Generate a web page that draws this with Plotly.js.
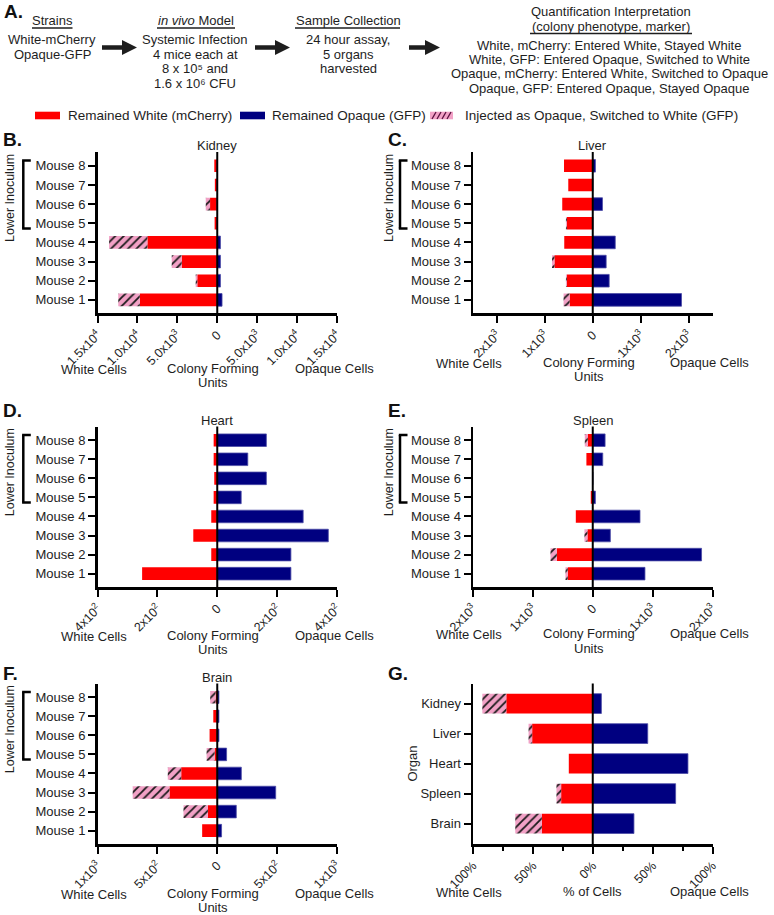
<!DOCTYPE html>
<html><head><meta charset="utf-8">
<script src="https://cdn.plot.ly/plotly-3.0.1.min.js"></script>
<style>html,body{margin:0;padding:0;background:#fff}#chart{width:774px;height:915px}</style>
</head><body><div id="chart"></div>
<script>
// ---------------- DATA ----------------
const mice = ['Mouse 1','Mouse 2','Mouse 3','Mouse 4','Mouse 5','Mouse 6','Mouse 7','Mouse 8'];
const organs = ['Brain','Spleen','Heart','Liver','Kidney'];

const kidneyWhiteMCherry = [9700, 2500, 4450, 8750, 330, 900, 300, 370];
const kidneyWhiteGFP     = [2700, 200, 1250, 4800, 0, 540, 0, 0];
const kidneyOpaqueGFP    = [600, 400, 400, 400, 0, 0, 0, 0];

const liverWhiteMCherry = [483, 540, 800, 595, 540, 637, 511, 600];
const liverWhiteGFP     = [126, 20, 50, 0, 20, 0, 0, 0];
const liverOpaqueGFP    = [1853, 343, 280, 470, 0, 203, 0, 56];

const heartWhiteMCherry = [251, 20, 80, 20, 12, 10, 12, 12];
const heartWhiteGFP     = [0, 0, 0, 0, 0, 0, 0, 0];
const heartOpaqueGFP    = [246, 246, 371, 287, 80, 164, 102, 164];

const spleenWhiteMCherry = [417, 600, 89, 283, 33, 0, 106, 83];
const spleenWhiteGFP     = [39, 106, 50, 0, 0, 0, 0, 50];
const spleenOpaqueGFP    = [872, 1817, 294, 789, 44, 0, 167, 206];

const brainWhiteMCherry = [126, 78, 399, 301, 22, 64, 33, 14];
const brainWhiteGFP     = [0, 204, 307, 112, 67, 0, 0, 45];
const brainOpaqueGFP    = [36, 159, 488, 201, 78, 14, 14, 14];

// percent of cells per organ (order of `organs`)
const pctWhiteMCherry = [42.5, 26.4, 20.0, 50.6, 72.2];
const pctWhiteGFP     = [22.2, 3.9, 0, 3.0, 20.0];
const pctOpaqueGFP    = [34.4, 69.2, 79.5, 45.9, 7.2];

// tick values / labels
const kidneyTicks = [-15000,-10000,-5000,0,5000,10000,15000];
const kidneyTickText = ['1.5x10<sup>4</sup>','1.0x10<sup>4</sup>','5.0x10<sup>3</sup>','0','5.0x10<sup>3</sup>','1.0x10<sup>4</sup>','1.5x10<sup>4</sup>'];
const liverTicks = [-2000,-1000,0,1000,2000];
const liverTickText = ['2x10<sup>3</sup>','1x10<sup>3</sup>','0','1x10<sup>3</sup>','2x10<sup>3</sup>'];
const heartTicks = [-400,-200,0,200,400];
const heartTickText = ['4x10<sup>2</sup>','2x10<sup>2</sup>','0','2x10<sup>2</sup>','4x10<sup>2</sup>'];
const spleenTicks = [-2000,-1000,0,1000,2000];
const spleenTickText = ['2x10<sup>3</sup>','1x10<sup>3</sup>','0','1x10<sup>3</sup>','2x10<sup>3</sup>'];
const brainTicks = [-1000,-500,0,500,1000];
const brainTickText = ['1x10<sup>3</sup>','5x10<sup>2</sup>','0','5x10<sup>2</sup>','1x10<sup>3</sup>'];
const pctTicks = [-100,-50,0,50,100];
const pctTickText = ['100%','50%','0%','50%','100%'];
const pctMinorTicks = [-75,-25,25,75];

// ---------------- STYLE / GEOMETRY ----------------
const W = 774, H = 915;
const px = x => x / W;
const py = y => 1 - y / H;
const FONT = 'Liberation Sans, Arial, Helvetica, sans-serif';
const TXT = '#1e1e1e';
const RED = '#ff0000', NAVY = '#000080', PINK = '#f2a1c6';

const colX = [[97.5, 337], [473, 712.5]];
const rowY = [[152, 313.3], [426.5, 587], [683.5, 844]];

const panels = [
  {name:'Kidney', letter:'B.', col:0, row:0, cats:mice, wm:kidneyWhiteMCherry, wg:kidneyWhiteGFP, og:kidneyOpaqueGFP, rng:15000, tv:kidneyTicks, tt:kidneyTickText, lab:55, xl:'Colony Forming', x2:'Units'},
  {name:'Liver', letter:'C.', col:1, row:0, cats:mice, wm:liverWhiteMCherry, wg:liverWhiteGFP, og:liverOpaqueGFP, rng:2500, tv:liverTicks, tt:liverTickText, lab:49, xl:'Colony Forming', x2:'Units'},
  {name:'Heart', letter:'D.', col:0, row:1, cats:mice, wm:heartWhiteMCherry, wg:heartWhiteGFP, og:heartOpaqueGFP, rng:400, tv:heartTicks, tt:heartTickText, lab:48, xl:'Colony Forming', x2:'Units'},
  {name:'Spleen', letter:'E.', col:1, row:1, cats:mice, wm:spleenWhiteMCherry, wg:spleenWhiteGFP, og:spleenOpaqueGFP, rng:2000, tv:spleenTicks, tt:spleenTickText, lab:46.5, xl:'Colony Forming', x2:'Units'},
  {name:'Brain', letter:'F.', col:0, row:2, cats:mice, wm:brainWhiteMCherry, wg:brainWhiteGFP, og:brainOpaqueGFP, rng:1000, tv:brainTicks, tt:brainTickText, lab:49, xl:'Colony Forming', x2:'Units'},
  {name:'', letter:'G.', col:1, row:2, cats:organs, wm:pctWhiteMCherry, wg:pctWhiteGFP, og:pctOpaqueGFP, rng:100, tv:pctTicks, tt:pctTickText, lab:47.5, xl:'% of Cells', x2:'', minor:pctMinorTicks}
];

const data = [];
const layout = {
  width: W, height: H, margin:{l:0,r:0,t:0,b:0},
  paper_bgcolor:'#fff', plot_bgcolor:'rgba(0,0,0,0)',
  barmode:'relative', bargap:0.34, showlegend:false,
  font:{family:FONT, size:13, color:TXT},
  annotations:[], shapes:[]
};
const ann = (o) => layout.annotations.push(Object.assign({showarrow:false, font:{family:FONT, size:13, color:TXT}}, o));
const shp = (o) => layout.shapes.push(o);

panels.forEach((p, i) => {
  const n = i + 1;
  const xa = n === 1 ? 'x' : 'x' + n;
  const ya = n === 1 ? 'y' : 'y' + n;
  const xk = n === 1 ? 'xaxis' : 'xaxis' + n;
  const yk = n === 1 ? 'yaxis' : 'yaxis' + n;
  const [L, R] = colX[p.col];
  const [T, B] = rowY[p.row];
  const isMouse = p.cats.length === 8;
  const yr = isMouse ? [-0.7, 7.72] : [-0.68, 4.67];

  data.push({type:'bar', orientation:'h', y:p.cats, x:p.wm.map(v => -v), xaxis:xa, yaxis:ya,
    marker:{color:RED, line:{width:0}}, hoverinfo:'skip'});
  data.push({type:'bar', orientation:'h', y:p.cats, x:p.wg.map(v => -v), xaxis:xa, yaxis:ya,
    marker:{color:PINK, line:{width:0}, pattern:{shape:'/', fgcolor:'#1a1a1a', bgcolor:PINK, size:6, solidity:0.3, fillmode:'replace'}}, hoverinfo:'skip'});
  data.push({type:'bar', orientation:'h', y:p.cats, x:p.og, xaxis:xa, yaxis:ya,
    marker:{color:NAVY, line:{color:'#4b4ba6', width:0.8}}, hoverinfo:'skip'});

  layout[xk] = {
    domain:[px(L), px(R)], anchor:ya, range:[-p.rng, p.rng], fixedrange:true,
    tickmode:'array', tickvals:p.tv, ticktext:p.tt, tickangle:-45,
    tickfont:{family:FONT, size:12.5, color:TXT},
    showline:true, linecolor:'#000', linewidth:2.5, mirror:false,
    ticks:'outside', ticklen:7, tickwidth:2, tickcolor:'#000',
    showgrid:false, zeroline:false
  };
  if (p.minor) layout[xk].minor = {tickmode:'array', tickvals:p.minor, ticks:'outside', ticklen:4, tickwidth:2, tickcolor:'#000', showgrid:false};
  layout[yk] = {
    domain:[py(B), py(T)], anchor:xa, type:'category', categoryorder:'array', categoryarray:p.cats,
    range:yr, fixedrange:true,
    tickfont:{family:FONT, size:13, color:TXT},
    showline:true, linecolor:'#000', linewidth:2.5,
    ticks:'outside', ticklen:7, tickwidth:2, tickcolor:'#000',
    showgrid:false, zeroline:false
  };

  // zero line
  shp({type:'line', xref:xa, yref:ya + ' domain', x0:0, x1:0, y0:0, y1:1, line:{color:'#000', width:2}, layer:'above'});

  // title
  if (p.name) ann({xref:xa, x:0, yref:'paper', y:py(T - 6.5), text:p.name, xanchor:'center', yanchor:'middle'});

  // bottom labels
  const zeroPx = (L + R) / 2;
  ann({xref:'paper', x:px(L - 4), yref:'paper', y:py(B + p.lab + 1), text:'White Cells', xanchor:'center', yanchor:'middle'});
  ann({xref:'paper', x:px(R - 3), yref:'paper', y:py(B + p.lab), text:'Opaque Cells', xanchor:'center', yanchor:'middle'});
  ann({xref:'paper', x:px(zeroPx - (p.x2 ? 4 : 0)), yref:'paper', y:py(B + p.lab), text:p.xl, xanchor:'center', yanchor:'middle'});
  if (p.x2) ann({xref:'paper', x:px(zeroPx - 4), yref:'paper', y:py(B + p.lab + 14.5), text:p.x2, xanchor:'center', yanchor:'middle'});

  // panel letter
  const letterY = [140, 411, 673][p.row];
  ann({xref:'paper', x:px(p.col === 0 ? 1 : 385.5), yref:'paper', y:py(letterY), text:'<b>' + p.letter + '</b>', xanchor:'left', yanchor:'middle', font:{family:FONT, size:19, color:'#111'}});

  if (isMouse) {
    const bx = p.col === 0 ? 23.3 : 400;
    const lx = p.col === 0 ? 10 : 389;
    shp({type:'line', xref:'paper', yref:ya, x0:px(bx), x1:px(bx), y0:3.73, y1:7.27, line:{color:'#000', width:2.5}});
    shp({type:'line', xref:'paper', yref:ya, x0:px(bx - 1.2), x1:px(bx + 7.5), y0:7.27, y1:7.27, line:{color:'#000', width:2.5}});
    shp({type:'line', xref:'paper', yref:ya, x0:px(bx - 1.2), x1:px(bx + 7.5), y0:3.73, y1:3.73, line:{color:'#000', width:2.5}});
    ann({xref:'paper', x:px(lx), yref:ya, y:5.32, text:'Lower Inoculum', textangle:-90, xanchor:'center', yanchor:'middle', font:{family:FONT, size:12.5, color:TXT}});
  } else {
    ann({xref:'paper', x:px(413), yref:ya, y:2, text:'Organ', textangle:-90, xanchor:'center', yanchor:'middle'});
  }
});

// ---------------- LEGEND ----------------
shp({type:'rect', xref:'paper', yref:'paper', x0:px(35), x1:px(60), y0:py(119.3), y1:py(111.7), fillcolor:RED, line:{width:0}});
ann({xref:'paper', x:px(66), yref:'paper', y:py(115.5), text:'Remained White (mCherry)', xanchor:'left', yanchor:'middle', font:{family:FONT, size:13.5, color:TXT}});
shp({type:'rect', xref:'paper', yref:'paper', x0:px(240), x1:px(265), y0:py(119.3), y1:py(111.7), fillcolor:NAVY, line:{width:0}});
ann({xref:'paper', x:px(270), yref:'paper', y:py(115.5), text:'Remained Opaque (GFP)', xanchor:'left', yanchor:'middle', font:{family:FONT, size:13.5, color:TXT}});
shp({type:'rect', xref:'paper', yref:'paper', x0:px(430), x1:px(453), y0:py(119.3), y1:py(111.7), fillcolor:PINK, line:{width:0}});
[432, 437, 442, 447].forEach(x => shp({type:'line', xref:'paper', yref:'paper', x0:px(x), x1:px(x + 4), y0:py(119), y1:py(112), line:{color:'#5a1040', width:1.3}}));
ann({xref:'paper', x:px(463), yref:'paper', y:py(115.5), text:'Injected as Opaque, Switched to White (GFP)', xanchor:'left', yanchor:'middle', font:{family:FONT, size:13.5, color:TXT}});

// ---------------- SCHEMATIC (A) ----------------
ann({xref:'paper', x:px(2), yref:'paper', y:py(12), text:'<b>A.</b>', xanchor:'left', yanchor:'middle', font:{family:FONT, size:19, color:'#111'}});
const hdr = (x, y, t) => ann({xref:'paper', x:px(x), yref:'paper', y:py(y), text:t, xanchor:'center', yanchor:'middle'});
const uline = (x0, x1, y) => shp({type:'line', xref:'paper', yref:'paper', x0:px(x0), x1:px(x1), y0:py(y), y1:py(y), line:{color:TXT, width:1.3}});
hdr(52, 20, 'Strains'); uline(32, 72.5, 28);
hdr(52, 39.5, 'White-mCherry'); hdr(52, 54, 'Opaque-GFP');
hdr(196, 20, '<i>in vivo</i> Model'); uline(157, 235, 28);
hdr(195, 39.5, 'Systemic Infection'); hdr(195, 54, '4 mice each at');
hdr(195, 68.5, '8 x 10\u2075 and'); hdr(195, 83, '1.6 x 10\u2076 CFU');
hdr(348, 20, 'Sample Collection'); uline(295, 400, 28);
hdr(348, 39.5, '24 hour assay,'); hdr(348, 54, '5 organs'); hdr(348, 68.5, 'harvested');
hdr(611, 11, 'Quantification Interpretation');
hdr(611, 26, '(colony phenotype, marker)'); uline(530, 692, 33.5);
hdr(609, 46, 'White, mCherry: Entered White, Stayed White');
hdr(609, 60, 'White, GFP: Entered Opaque, Switched to White');
hdr(609, 74, 'Opaque, mCherry: Entered White, Switched to Opaque');
hdr(609, 88, 'Opaque, GFP: Entered Opaque, Stayed Opaque');

const arrow = (x0, x1, yc) => {
  const hx = x1 - 15;
  const P = (x, y) => px(x).toFixed(5) + ',' + py(y).toFixed(5);
  const path = 'M' + P(x0, yc - 2.3) + 'L' + P(hx, yc - 2.3) + 'L' + P(hx, yc - 7.5) + 'L' + P(x1, yc) +
               'L' + P(hx, yc + 7.5) + 'L' + P(hx, yc + 2.3) + 'L' + P(x0, yc + 2.3) + 'Z';
  shp({type:'path', xref:'paper', yref:'paper', path:path, fillcolor:'#1e1e1e', line:{width:0}});
};
arrow(102, 137, 47.5);
arrow(255, 290, 47.5);
arrow(409, 440, 47.5);

Plotly.newPlot('chart', data, layout, {staticPlot:true, displayModeBar:false});
</script>
</body></html>
